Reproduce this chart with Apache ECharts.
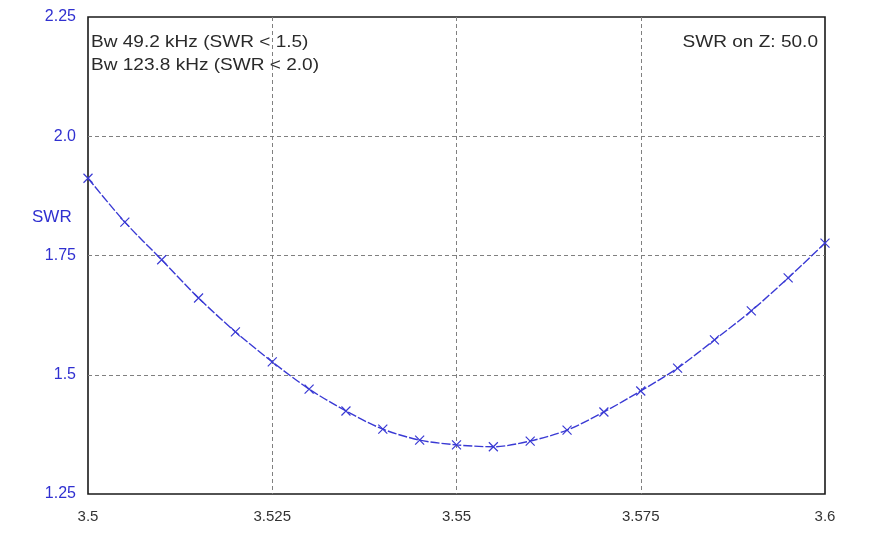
<!DOCTYPE html>
<html>
<head>
<meta charset="utf-8">
<script src="https://cdn.jsdelivr.net/npm/echarts@6/dist/echarts.min.js"></script>
<style>
html,body{margin:0;padding:0;background:#fff;}
#chart{width:878px;height:534px;}
</style>
</head>
<body>
<div id="chart"></div>
<script>
// Frequency (MHz)
const freqs = [3.500,3.505,3.510,3.515,3.520,3.525,3.530,3.535,3.540,3.545,3.550,3.555,3.560,3.565,3.570,3.575,3.580,3.585,3.590,3.595,3.600];
// SWR values
const swr = [1.912,1.820,1.741,1.661,1.590,1.527,1.470,1.424,1.386,1.363,1.353,1.349,1.361,1.384,1.422,1.466,1.514,1.573,1.634,1.703,1.776];
// Tick labels
const xTickLabels = ['3.5','3.525','3.55','3.575','3.6'];
const yTickLabels = ['1.25','1.5','1.75','2.0','2.25'];
// Annotations
const bwLines = ['Bw 49.2 kHz (SWR < 1.5)','Bw 123.8 kHz (SWR < 2.0)'];
const zText = 'SWR on Z: 50.0';
const yName = 'SWR';

const data = freqs.map((f,i)=>[f, swr[i]]);
const chart = echarts.init(document.getElementById('chart'));
const textFont = "Arial, 'Liberation Sans', sans-serif";

chart.setOption({
  animation:false,
  backgroundColor:'#fff',
  grid:{left:88,right:53,top:17,bottom:40,show:true,borderColor:'#1a1a1a',borderWidth:1.6,backgroundColor:'#fff'},
  xAxis:{
    type:'value',min:3.5,max:3.6,interval:0.025,
    axisLine:{show:false},axisTick:{show:false},
    axisLabel:{margin:15,color:'#333',fontSize:15,fontFamily:"'Liberation Sans Narrow', Arial, sans-serif",
      formatter:(v)=>{const i=Math.round((v-3.5)/0.025);return xTickLabels[i]||'';}},
    splitLine:{show:true,showMinLine:false,showMaxLine:false,lineStyle:{color:'#808080',type:[4,3],width:1}}
  },
  yAxis:{
    type:'value',min:1.25,max:2.25,interval:0.25,
    axisLine:{show:false},axisTick:{show:false},
    axisLabel:{margin:12,color:'#3030d0',fontSize:16,fontFamily:textFont,
      formatter:(v)=>{const i=Math.round((v-1.25)/0.25);return yTickLabels[i]||'';}},
    splitLine:{show:true,showMinLine:false,showMaxLine:false,lineStyle:{color:'#808080',type:[4,3],width:1}}
  },
  graphic:[
    {type:'text',left:32,top:209,style:{text:yName,fill:'#3030d0',font:"17px "+textFont}},
    {type:'text',x:91,y:34,scaleX:1.12,style:{text:bwLines[0],fill:'#2a2a2a',font:"17px "+textFont}},
    {type:'text',x:91,y:57,scaleX:1.12,style:{text:bwLines[1],fill:'#2a2a2a',font:"17px "+textFont}},
    {type:'text',x:818,y:34,scaleX:1.12,style:{text:zText,fill:'#2a2a2a',font:"17px "+textFont,align:'right'}}
  ],
  series:[{
    type:'line',data:data,smooth:0.3,
    symbol:'path://M0,0L10,10M10,0L0,10',symbolSize:9,
    itemStyle:{color:'rgba(0,0,0,0)',borderColor:'#3a3ad4',borderWidth:1.2},
    lineStyle:{color:'#3a3ad4',width:1.4,type:[9,2]},
    z:3
  }]
});
</script>
</body>
</html>
